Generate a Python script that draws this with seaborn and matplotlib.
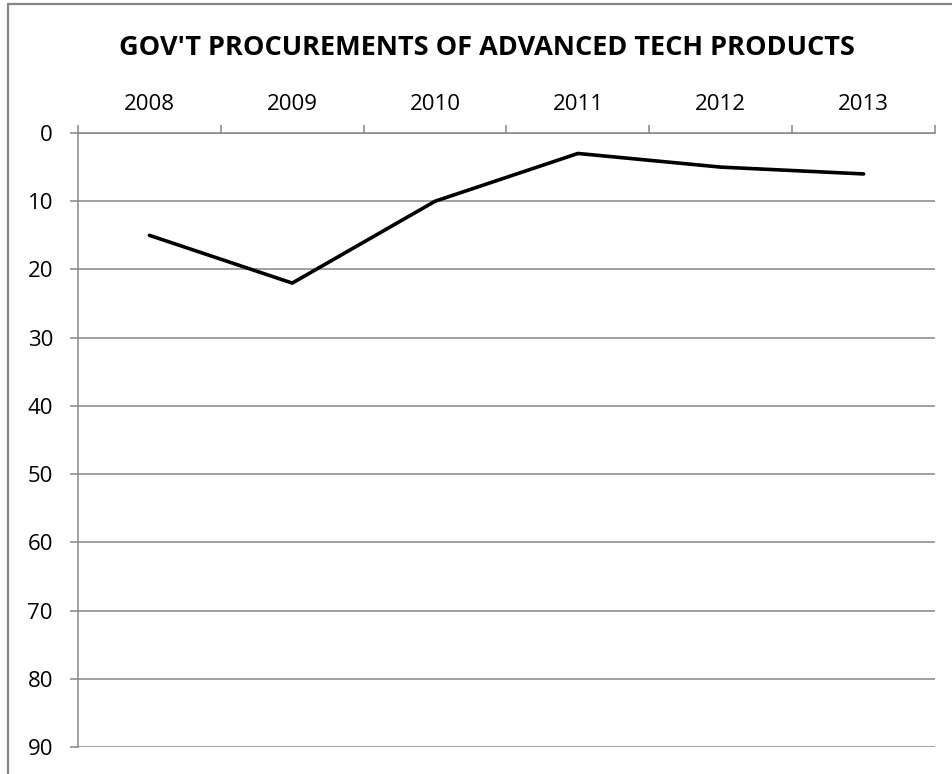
import matplotlib
matplotlib.use("Agg")
import matplotlib.pyplot as plt
from matplotlib.lines import Line2D
from matplotlib.ticker import FixedLocator
import seaborn as sns
import pandas as pd

# Procurement ranking by year (lower number = better rank)
years = ["2008", "2009", "2010", "2011", "2012", "2013"]
ranks = [15, 22, 10, 3, 5, 6]
y_ticks = [0, 10, 20, 30, 40, 50, 60, 70, 80, 90]
title = "GOV'T PROCUREMENTS OF ADVANCED TECH PRODUCTS"

df = pd.DataFrame({"year": years, "rank": ranks})

sns.set_theme(style="white")
plt.rcParams["font.family"] = ["Open Sans", "DejaVu Sans"]

grid_color = "#868686"

fig = plt.figure(figsize=(9.53, 7.74), dpi=100)
ax = fig.add_axes([78 / 953, 1 - 747 / 774, (935 - 78) / 953, (747 - 133) / 774])

sns.lineplot(data=df, x="year", y="rank", ax=ax, color="black", linewidth=2.6,
             sort=False, solid_capstyle="round")

ax.set_xlim(-0.5, len(years) - 0.5)
ax.set_ylim(90, 0)
ax.set_yticks(y_ticks)
ax.set_yticklabels([str(v) for v in y_ticks])
ax.set_xlabel("")
ax.set_ylabel("")

# Category axis sits on top; tick marks between categories
ax.xaxis.tick_top()
ax.set_xticks(range(len(years)))
ax.set_xticklabels(years)
ax.xaxis.set_minor_locator(FixedLocator([i - 0.5 for i in range(len(years) + 1)]))
ax.tick_params(axis="x", which="major", length=0, pad=13, labelsize=16, labelcolor="black")
ax.tick_params(axis="x", which="minor", top=True, bottom=False, length=6,
               width=1.1, color=grid_color, direction="out")
ax.tick_params(axis="y", which="major", left=True, length=6, width=1.1,
               color=grid_color, direction="out", pad=12, labelsize=16, labelcolor="black")

ax.yaxis.grid(True, color=grid_color, linewidth=1.1)
ax.xaxis.grid(False)
ax.set_axisbelow(True)

for side in ["right", "bottom"]:
    ax.spines[side].set_visible(False)
for side in ["left", "top"]:
    ax.spines[side].set_color(grid_color)
    ax.spines[side].set_linewidth(1.1)

fig.text(487 / 953, 1 - 55 / 774, title, ha="center", va="baseline",
         fontsize=19.5, fontweight="bold", color="black")

# Chart-area border
fig.add_artist(Line2D([8.5 / 953, 8.5 / 953], [0, 1 - 4 / 774], transform=fig.transFigure,
                      color=grid_color, linewidth=1.6))
fig.add_artist(Line2D([8.5 / 953, 1], [1 - 4 / 774, 1 - 4 / 774], transform=fig.transFigure,
                      color=grid_color, linewidth=1.6))

fig.savefig("out.png", dpi=100, facecolor="white")
